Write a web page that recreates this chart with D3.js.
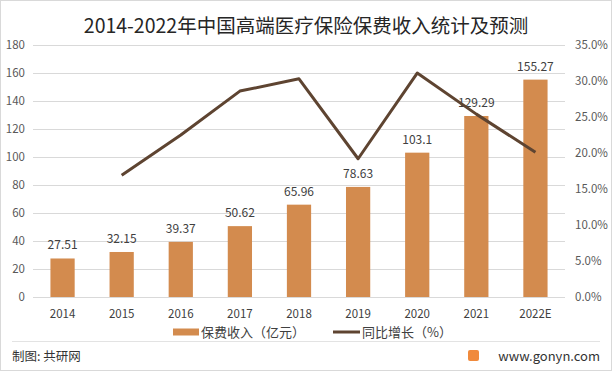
<!DOCTYPE html>
<html>
<head>
<meta charset="utf-8">
<script src="https://cdn.jsdelivr.net/npm/d3@7"></script>
<style>
	body { margin: 0; background: #fff; }
	svg text { font-family: "Noto Sans CJK SC", "Noto Sans", sans-serif; }
</style>
</head>
<body>
<main></main>
<script>
const years = ["2014", "2015", "2016", "2017", "2018", "2019", "2020", "2021", "2022E"];
const premium = [27.51, 32.15, 39.37, 50.62, 65.96, 78.63, 103.1, 129.29, 155.27];
const growth = [null, 16.9, 22.5, 28.6, 30.3, 19.2, 31.1, 25.4, 20.1];
const leftTicks = [0, 20, 40, 60, 80, 100, 120, 140, 160, 180];
const rightTicks = [0, 5, 10, 15, 20, 25, 30, 35];

const width = 612;
const height = 371;
let dimensions = {
	width: width,
	height: height,
	margins: { top: 45, right: 47, bottom: 74, left: 33 },
};
dimensions.boundedWidth = dimensions.width - dimensions.margins.left - dimensions.margins.right;
dimensions.boundedHeight = dimensions.height - dimensions.margins.top - dimensions.margins.bottom;

const svg = d3.select("main").append("svg")
	.attr("width", width)
	.attr("height", height);

svg.append("rect")
	.attr("x", 0.5).attr("y", 0.5)
	.attr("width", width - 1).attr("height", height - 1)
	.attr("fill", "#fff").attr("stroke", "#d9d9d9");

svg.append("text")
	.attr("x", width / 2)
	.attr("y", 33)
	.attr("text-anchor", "middle")
	.attr("fill", "#262626")
	.style("font-size", "19.5px")
	.text("2014-2022年中国高端医疗保险保费收入统计及预测");

const graph = svg.append("g")
	.attr("transform", `translate(${dimensions.margins.left},${dimensions.margins.top})`);

const xScale = d3.scaleBand()
	.domain(years)
	.range([0, dimensions.boundedWidth])
	.paddingInner(0.59)
	.paddingOuter(0.295);

const yScale = d3.scaleLinear().domain([0, 180]).range([dimensions.boundedHeight, 0]);
const y2Scale = d3.scaleLinear().domain([0, 35]).range([dimensions.boundedHeight, 0]);

// gridlines
graph.selectAll(".grid")
	.data(leftTicks)
	.enter()
	.append("line")
	.attr("x1", 0)
	.attr("x2", dimensions.boundedWidth)
	.attr("y1", d => Math.round(yScale(d)) + 0.5)
	.attr("y2", d => Math.round(yScale(d)) + 0.5)
	.attr("stroke", "#d9d9d9");

const yAxis = graph.append("g")
	.call(d3.axisLeft(yScale).tickValues(leftTicks).tickSize(0).tickPadding(8));
yAxis.select(".domain").remove();
yAxis.selectAll("text").attr("fill", "#595959").style("font-size", "11.5px");

const y2Axis = graph.append("g")
	.attr("transform", `translate(${dimensions.boundedWidth},0)`)
	.call(d3.axisRight(y2Scale).tickValues(rightTicks).tickSize(0).tickPadding(10).tickFormat(d => d.toFixed(1) + "%"));
y2Axis.select(".domain").remove();
y2Axis.selectAll("text").attr("fill", "#595959").style("font-size", "11.5px");

const xAxis = graph.append("g")
	.attr("transform", `translate(0,${dimensions.boundedHeight})`)
	.call(d3.axisBottom(xScale).tickSize(0).tickPadding(13));
xAxis.select(".domain").remove();
xAxis.selectAll("text").attr("fill", "#404040").style("font-size", "11.5px");

graph.selectAll("rect.bar")
	.data(premium)
	.enter()
	.append("rect")
	.attr("class", "bar")
	.attr("x", (d, i) => xScale(years[i]))
	.attr("y", d => yScale(d))
	.attr("width", xScale.bandwidth())
	.attr("height", d => dimensions.boundedHeight - yScale(d))
	.attr("fill", "#d38b4e");

graph.selectAll(".lbl")
	.data(premium)
	.enter()
	.append("text")
	.attr("x", (d, i) => xScale(years[i]) + xScale.bandwidth() / 2)
	.attr("y", d => yScale(d) - 9)
	.attr("text-anchor", "middle")
	.attr("fill", "#404040")
	.style("font-size", "12px")
	.text(d => d);

const line = d3.line()
	.defined(d => d !== null)
	.x((d, i) => xScale(years[i]) + xScale.bandwidth() / 2)
	.y(d => y2Scale(d));

graph.append("path")
	.datum(growth)
	.attr("d", line)
	.attr("fill", "none")
	.attr("stroke", "#5e4431")
	.attr("stroke-width", 3)
	.attr("stroke-linejoin", "round");

// legend
const legend = svg.append("g").attr("transform", "translate(0,332)");
legend.append("rect")
	.attr("x", 173).attr("y", -3.5)
	.attr("width", 26).attr("height", 7)
	.attr("fill", "#d38b4e");
legend.append("text")
	.attr("x", 201).attr("y", 5)
	.attr("fill", "#404040")
	.style("font-size", "13px")
	.text("保费收入（亿元）");
legend.append("line")
	.attr("x1", 333).attr("x2", 360)
	.attr("y1", 0).attr("y2", 0)
	.attr("stroke", "#5e4431").attr("stroke-width", 3);
legend.append("text")
	.attr("x", 362).attr("y", 5)
	.attr("fill", "#404040")
	.style("font-size", "13px")
	.text("同比增长（%）");

// footer
svg.append("line")
	.attr("x1", 12).attr("x2", 600)
	.attr("y1", 341.5).attr("y2", 341.5)
	.attr("stroke", "#e3e3e3");
svg.append("text")
	.attr("x", 12).attr("y", 361)
	.attr("fill", "#333")
	.style("font-size", "12.5px")
	.text("制图: 共研网");
svg.append("rect")
	.attr("x", 468).attr("y", 350)
	.attr("width", 11).attr("height", 11)
	.attr("rx", 2)
	.attr("fill", "#f08a3c");
svg.append("text")
	.attr("x", 600).attr("y", 361)
	.attr("text-anchor", "end")
	.attr("fill", "#333")
	.style("font-size", "13px")
	.text("www.gonyn.com");
</script>
</body>
</html>
